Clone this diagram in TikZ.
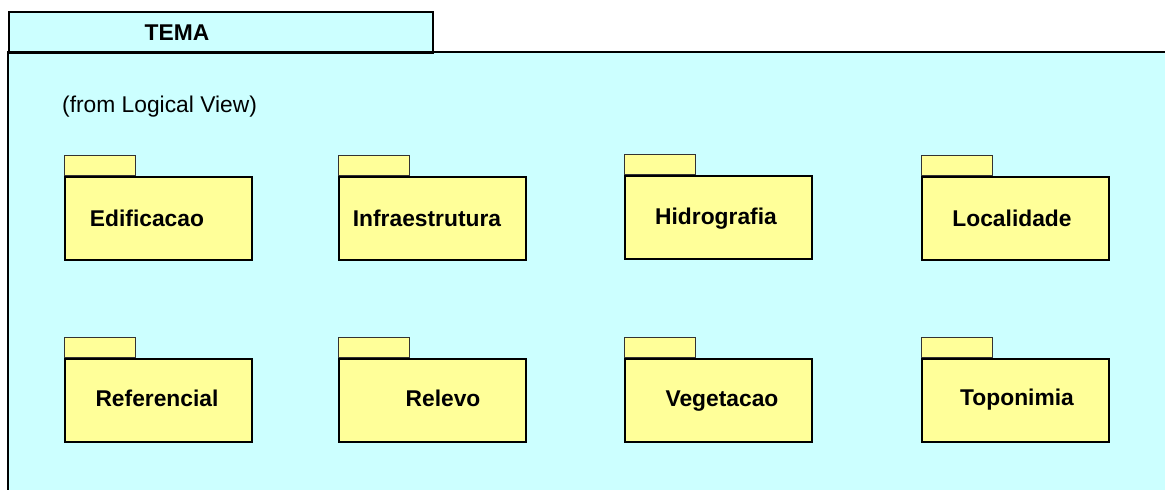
\documentclass[tikz,border=0pt]{standalone}
\usepackage{fontspec}
\setmainfont{Liberation Sans}
\definecolor{pkgcyan}{HTML}{CCFFFF}
\definecolor{pkgyellow}{HTML}{FFFF99}
\definecolor{tabline}{HTML}{333333}
\begin{document}
\begin{tikzpicture}[x=1pt,y=-1pt,
  big/.style={font=\fontsize{22.8}{27}\selectfont},
  pkgname/.style={big,font=\fontsize{22.8}{27}\selectfont\bfseries,anchor=base,inner sep=0pt},
  pkgbody/.style={draw=black,line width=1.6pt,fill=pkgyellow,anchor=north west,
    minimum width=187pt,minimum height=83pt,inner sep=0pt},
  pkgtab/.style={draw=tabline,line width=1.3pt,fill=pkgyellow,anchor=south west,
    minimum width=71pt,minimum height=20pt,inner sep=0pt}]
\useasboundingbox (0,0) rectangle (1165,490);
% outer package TEMA
\fill[pkgcyan] (8,52) rectangle (1170,495);
\node[draw=black,line width=1.6pt,fill=pkgcyan,anchor=north west,
  minimum width=424pt,minimum height=41pt,inner sep=0pt] (tematab) at (8,11) {};
\node[font=\fontsize{22.8}{27}\selectfont\bfseries,anchor=base,inner sep=0pt] (tema) at (177,40) {TEMA};
\draw[line width=1.6pt] (1170,52) -- (8,52) -- (8,495);
\node[big,anchor=base west,inner sep=0pt] (from) at (62,112) {(from Logical View)};
% inner packages: body, tab, name
\foreach \n/\x/\y/\tx/\t in {
  a/64/176/147/Edificacao, b/338/176/427/Infraestrutura,
  c/624/175/716/Hidrografia, d/921/176/1012/Localidade,
  e/64/358/157/Referencial, f/338/358/443/Relevo,
  g/624/358/722/Vegetacao, h/921/358/1017/Toponimia}{
  \node[pkgbody] (body\n) at (\x,\y) {};
  \node[pkgtab] (tab\n) at (body\n.north west) {};
}
\node[pkgname] (na) at (147,226) {Edificacao};
\node[pkgname] (nb) at (427,226) {Infraestrutura};
\node[pkgname] (nc) at (716,224) {Hidrografia};
\node[pkgname] (nd) at (1012,226) {Localidade};
\node[pkgname] (ne) at (157,406) {Referencial};
\node[pkgname] (nf) at (443,406) {Relevo};
\node[pkgname] (ng) at (722,406) {Vegetacao};
\node[pkgname] (nh) at (1017,405) {Toponimia};
\end{tikzpicture}
\end{document}
